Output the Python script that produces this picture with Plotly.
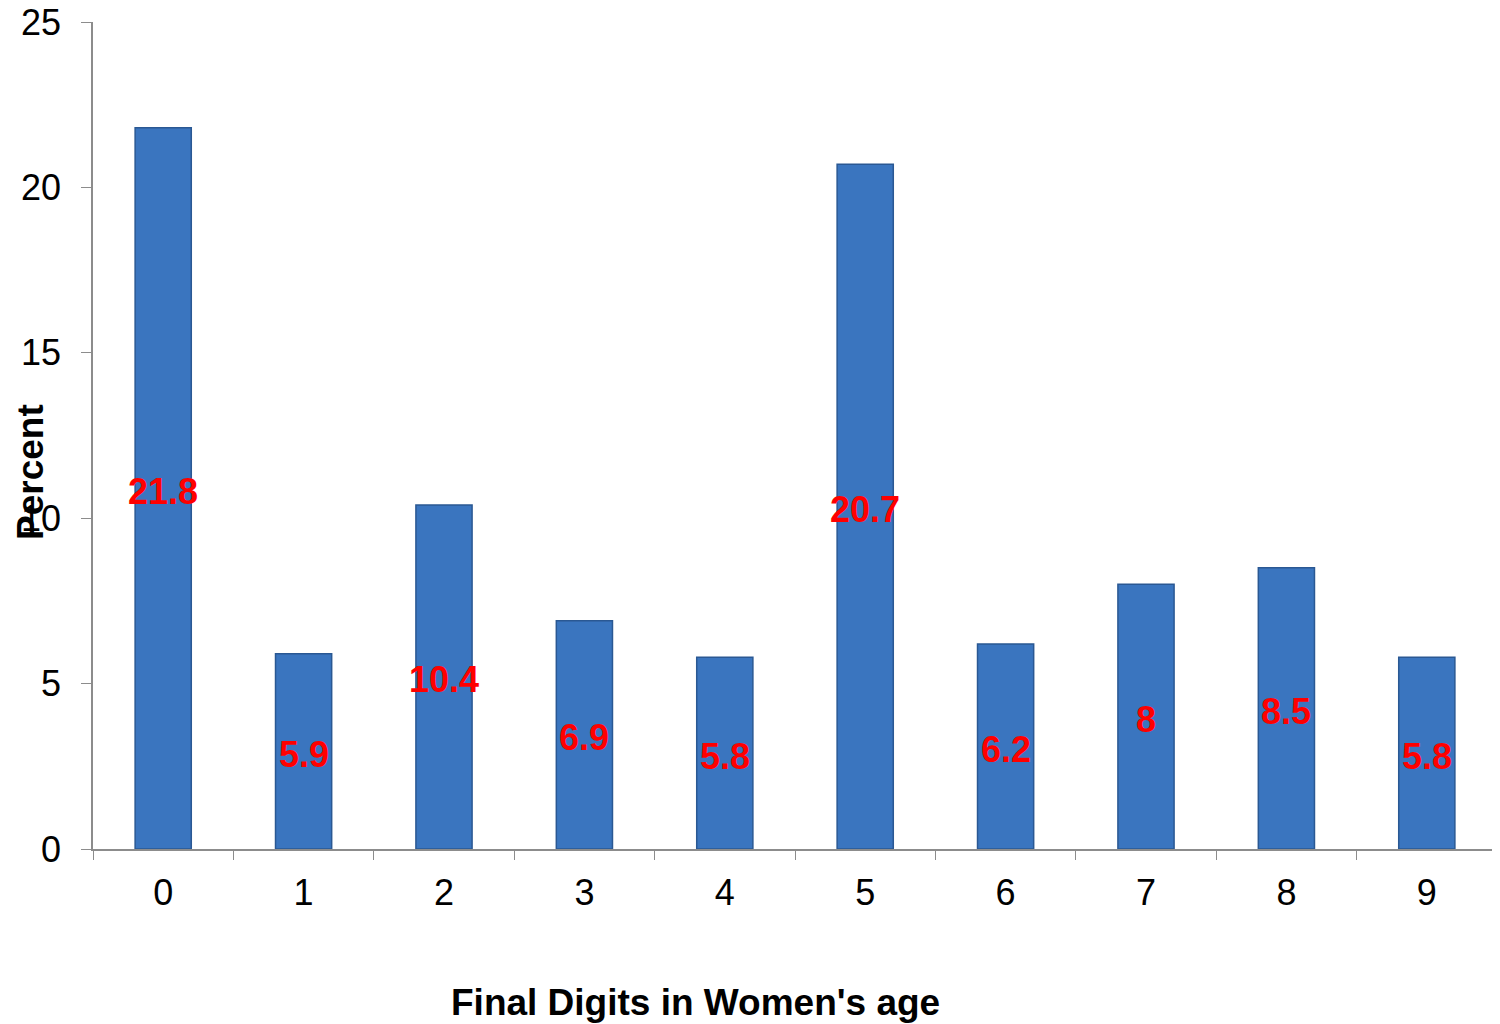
import plotly.graph_objects as go

categories = ["0", "1", "2", "3", "4", "5", "6", "7", "8", "9"]
percent = [21.8, 5.9, 10.4, 6.9, 5.8, 20.7, 6.2, 8, 8.5, 5.8]
y_ticks = [0, 5, 10, 15, 20, 25]

FONT = "Liberation Sans, Arial"
OFF = 8  # page body margin
W, H = 1500 - OFF, 1024 - OFF
L, R, T, B = 93 - OFF, 3, 22 - OFF, 175

fig = go.Figure()
fig.add_trace(go.Bar(
    x=categories, y=percent, width=0.4,
    marker=dict(color="#3A75BF", line=dict(color="#2A5893", width=1.5)),
    hoverinfo="x+y",
))

plot_w = W - L - R
plot_h = H - T - B

def px_x(px):
    return (px - OFF - L) / plot_w

def px_y(py):
    return (H - B - (py - OFF)) / plot_h

annotations = [
    dict(x=c, y=v / 2, xref="x", yref="y", text=f"<b>{v}</b>", showarrow=False,
         font=dict(family=FONT, size=36, color="#FF0000"), yshift=-3,
         xanchor="center", yanchor="middle")
    for c, v in zip(categories, percent)
]
annotations += [
    dict(text="<b>Percent</b>", x=px_x(30), y=px_y(472), xref="paper", yref="paper",
         showarrow=False, textangle=-90, font=dict(size=37),
         xanchor="center", yanchor="middle"),
    dict(text="<b>Final Digits in Women's age</b>", x=px_x(695), y=px_y(1002),
         xref="paper", yref="paper", showarrow=False, font=dict(size=37),
         xanchor="center", yanchor="middle"),
]

fig.update_layout(
    width=W, height=H,
    margin=dict(l=L, r=R, t=T, b=B),
    plot_bgcolor="white", paper_bgcolor="white",
    font=dict(family=FONT, size=36, color="#000000"),
    showlegend=False,
    xaxis=dict(type="category", range=[-0.5, 9.5], showline=True, linecolor="#8C8C8C", linewidth=1.5,
               ticks="outside", tickson="boundaries", ticklen=9, tickcolor="#8C8C8C",
               showgrid=False, zeroline=False, tickfont=dict(size=36), ticklabelstandoff=11,
               automargin=False, ticklabeloverflow="allow"),
    yaxis=dict(range=[0, 25], tickvals=y_ticks, showline=True, linecolor="#8C8C8C", linewidth=1.5,
               ticks="outside", ticklen=10, tickcolor="#8C8C8C", showgrid=False, zeroline=False,
               tickfont=dict(size=36), ticklabelstandoff=13, automargin=False,
               ticklabeloverflow="allow"),
    annotations=annotations,
)

fig.write_html("out.html")
